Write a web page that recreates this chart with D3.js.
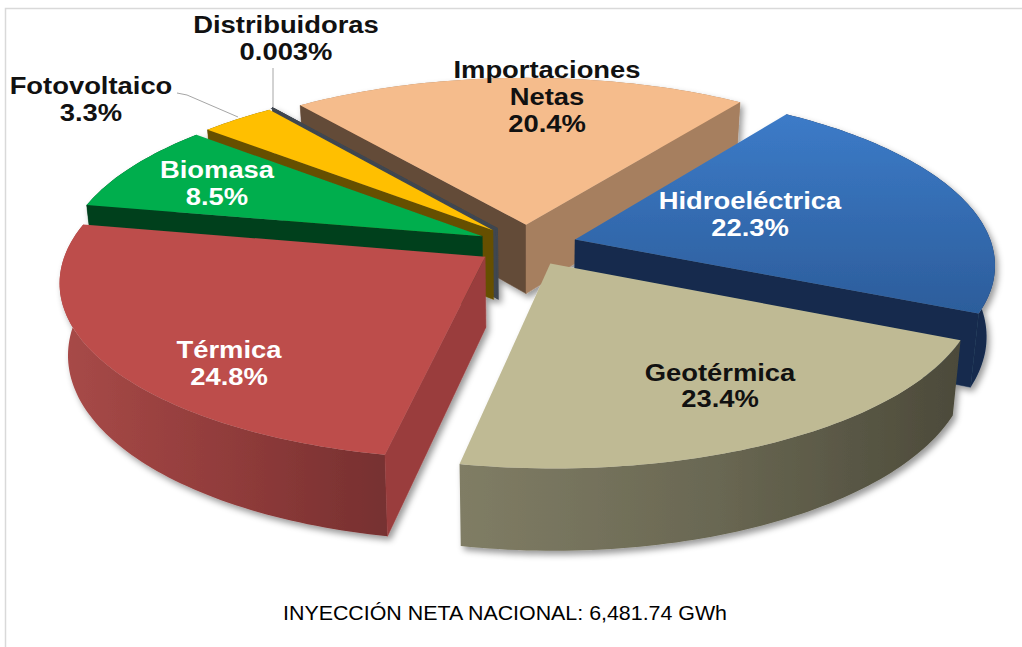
<!DOCTYPE html>
<html><head><meta charset="utf-8">
<script src="https://cdn.jsdelivr.net/npm/d3@7"></script>
<style>html,body{margin:0;padding:0;background:#fff}svg{display:block}
text{font-family:"Liberation Sans",Arial,sans-serif}</style></head>
<body><svg id="c" width="1022" height="647"></svg>
<script>
const categories=["Importaciones Netas","Hidroeléctrica","Geotérmica","Térmica","Biomasa","Fotovoltaico","Distribuidoras"];
const shares=[20.4,22.3,23.4,24.8,8.5,3.3,0.003];
const shareLabels=["20.4%","22.3%","23.4%","24.8%","8.5%","3.3%","0.003%"];
const footer="INYECCIÓN NETA NACIONAL: 6,481.74 GWh";

// appearance
const topColors=["#f5bc8c","url(#gHidroTop)","#bfba94","#bd4d4b","#00ae4e","#ffbf00","#3f4650"];
const startWall=["#644b38","#142b4d","#55533f","#9a3d3d","#00401f","#665000","#3f4650"];
const endWall=["#a67f5f","#142b4d","#55533f","#7a3030","#00401f","#665000","#3f4650"];
const outer=["#a67f5f","#142b4d","url(#gGeo)","url(#gTerm)","#00401f","#665000","#3f4650"];
const drawOrder=[0,1,6,5,4,3,2];
const labelCfg=[
 {x:547,y:[78,105,132],lines:["Importaciones","Netas"],c:"#111"},
 {x:750,y:[209,236],lines:["Hidroeléctrica"],c:"#fff"},
 {x:720,y:[381,407],lines:["Geotérmica"],c:"#111"},
 {x:229,y:[358,385],lines:["Térmica"],c:"#fff"},
 {x:217,y:[178,205],lines:["Biomasa"],c:"#fff"},
 {x:91,y:[94,121],lines:["Fotovoltaico"],c:"#111"},
 {x:286,y:[33,60],lines:["Distribuidoras"],c:"#111"}
];

const svg=d3.select("#c");
const defs=svg.append("defs");
function lg(id,stops,x1=0,y1=0,x2=1,y2=0){
 const g=defs.append("linearGradient").attr("id",id).attr("x1",x1).attr("y1",y1).attr("x2",x2).attr("y2",y2);
 stops.forEach(([o,c])=>g.append("stop").attr("offset",o).attr("stop-color",c));
}
lg("gHidroTop",[[0,"#3c7bc8"],[1,"#2c5d9b"]],0,0,0,1);
lg("gGeo",[[0,"#807d65"],[.5,"#6a6853"],[1,"#4c4a3a"]]);
lg("gTerm",[[0,"#a84a48"],[.55,"#8f3b3a"],[1,"#763030"]]);
const f=defs.append("filter").attr("id","sh").attr("x","-5%").attr("y","-5%").attr("width","110%").attr("height","115%");
f.append("feDropShadow").attr("dx",3).attr("dy",4).attr("stdDeviation",3).attr("flood-color","#000").attr("flood-opacity",.4);

// frame
svg.append("path").attr("d","M5.5 647V8.5H1022").attr("fill","none").attr("stroke","#d9d9d9").attr("stroke-width",1.5);

// 3-D projection
const cx=527,cy=245,R=417,K=.412,P=.135,H=70,EXPL=50,CONV=.018,ROT=1.3*Math.PI/180;
const D2R=Math.PI/180;
function proj(gx,gy,z){
 const s=1/(1+P*gy/R);
 return [cx+gx*s*(1-CONV*z), cy-K*gy*s+z*H*s];
}
// view-angle correction of the pie
function warp(th){
 const deg=((th/D2R)%360+360)%360;
 const bump=(c,w)=>Math.exp(-Math.pow((deg-c)/w,2));
 return th+D2R*(-4.4*bump(190,45)-1.8*bump(300,40)+1*bump(110,30));
}
const pie=d3.pie().sort(null).value(d=>d).startAngle(-0.655+ROT).endAngle(-0.655+ROT+2*Math.PI);
const arcs=pie(shares);
const g=svg.append("g").attr("filter","url(#sh)");
const line=d3.line();
drawOrder.forEach(i=>{
 const a=arcs[i],s0=warp(a.startAngle),e0=warp(a.endAngle),mid=(s0+e0)/2;
 const ox=EXPL*Math.sin(mid),oy=EXPL*Math.cos(mid);
 const pt=(th,r,z)=>proj(ox+r*Math.sin(th),oy+r*Math.cos(th),z);
 const n=Math.max(2,Math.ceil((e0-s0)/.02));
 const ths=d3.range(n+1).map(j=>s0+(e0-s0)*j/n);
 g.append("path").attr("d",line(ths.map(t=>pt(t,R,0)).concat(ths.slice().reverse().map(t=>pt(t,R,1))))+"Z")
   .attr("fill",outer[i]).attr("stroke","none");
 const wall=(th,col,sign)=>{
   const q=[pt(th,0,0),pt(th,R,0),pt(th,R,1),pt(th,0,1)];
   if(i!==6 && d3.polygonArea(q)*sign<=0) return;
   g.append("path").attr("d",line(q)+"Z").attr("fill",col).attr("stroke",col).attr("stroke-width",i===6?2:.5);
 };
 wall(s0,startWall[i],1);
 wall(e0,endWall[i],-1);
 g.append("path").attr("d",line([pt(s0,0,0)].concat(ths.map(t=>pt(t,R,0))))+"Z")
   .attr("fill",topColors[i]).attr("stroke",i===6?"#3f4650":"none").attr("stroke-width",i===6?2:0);
});

// leaders
svg.append("path").attr("d","M177 93L187 95L238 117").attr("fill","none").attr("stroke","#a6a6a6").attr("stroke-width",1);
svg.append("path").attr("d","M273 68V107").attr("fill","none").attr("stroke","#a6a6a6").attr("stroke-width",1);

// labels
labelCfg.forEach((l,i)=>{
 const lines=l.lines.concat(shareLabels[i]);
 lines.forEach((t,j)=>{
  const el=svg.append("text").attr("x",l.x).attr("y",l.y[j]).attr("text-anchor","middle")
   .attr("font-size",23).attr("font-weight","bold").attr("fill",l.c).text(t);
  el.attr("textLength",el.node().getComputedTextLength()*1.19).attr("lengthAdjust","spacingAndGlyphs");
 });
});
svg.append("text").attr("x",505).attr("y",620).attr("text-anchor","middle").attr("font-size",21)
 .attr("textLength",444).attr("lengthAdjust","spacingAndGlyphs").attr("fill","#000").text(footer);
</script></body></html>
